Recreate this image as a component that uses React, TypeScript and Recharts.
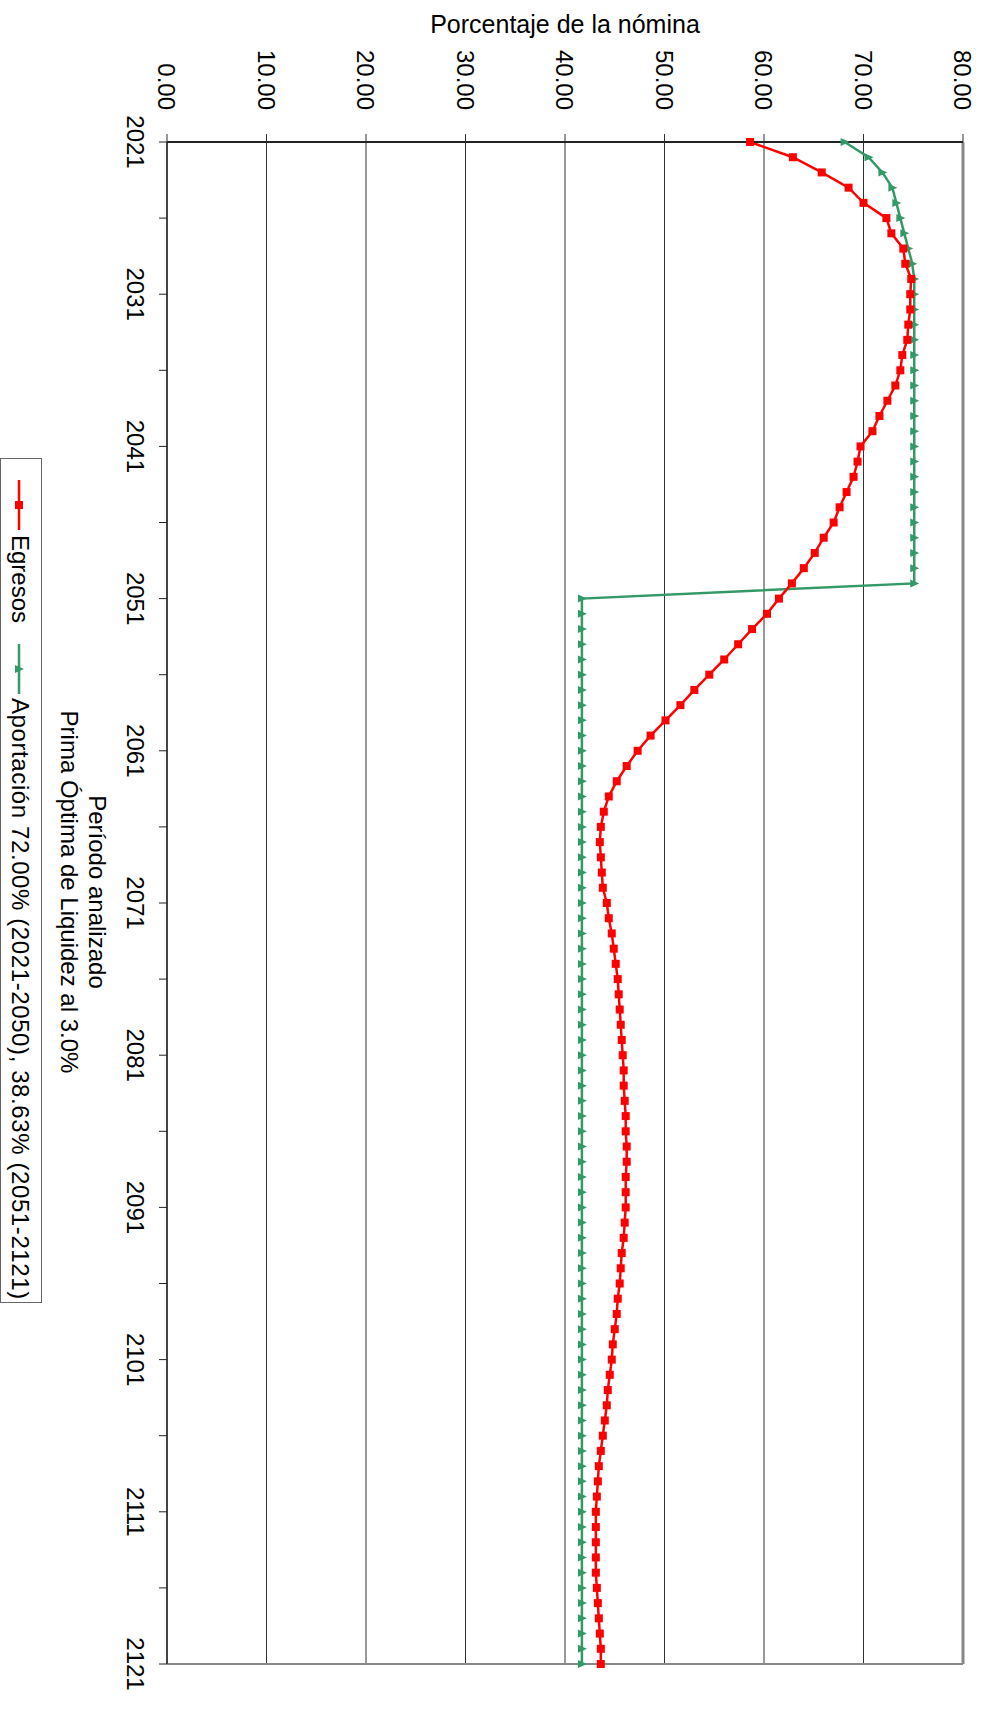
import React from 'react';
import { LineChart, Line, XAxis, YAxis, CartesianGrid, ReferenceLine } from 'recharts';

const years = [
  2021, 2022, 2023, 2024, 2025, 2026, 2027, 2028, 2029, 2030,
  2031, 2032, 2033, 2034, 2035, 2036, 2037, 2038, 2039, 2040,
  2041, 2042, 2043, 2044, 2045, 2046, 2047, 2048, 2049, 2050,
  2051, 2052, 2053, 2054, 2055, 2056, 2057, 2058, 2059, 2060,
  2061, 2062, 2063, 2064, 2065, 2066, 2067, 2068, 2069, 2070,
  2071, 2072, 2073, 2074, 2075, 2076, 2077, 2078, 2079, 2080,
  2081, 2082, 2083, 2084, 2085, 2086, 2087, 2088, 2089, 2090,
  2091, 2092, 2093, 2094, 2095, 2096, 2097, 2098, 2099, 2100,
  2101, 2102, 2103, 2104, 2105, 2106, 2107, 2108, 2109, 2110,
  2111, 2112, 2113, 2114, 2115, 2116, 2117, 2118, 2119, 2120,
  2121,
];

const egresos = [
  58.6, 62.9, 65.8, 68.5, 70.0, 72.3, 72.8, 74.0, 74.2, 74.8,
  74.7, 74.7, 74.5, 74.4, 73.9, 73.7, 73.2, 72.4, 71.6, 70.9,
  69.7, 69.4, 69.0, 68.3, 67.6, 67.0, 66.0, 65.1, 64.0, 62.8,
  61.5, 60.3, 58.8, 57.4, 56.0, 54.5, 53.0, 51.6, 50.1, 48.6,
  47.3, 46.2, 45.2, 44.4, 43.9, 43.6, 43.5, 43.6, 43.7, 43.8,
  44.2, 44.4, 44.7, 44.9, 45.1, 45.3, 45.4, 45.5, 45.6, 45.7,
  45.8, 45.9, 45.9, 46.0, 46.1, 46.1, 46.2, 46.2, 46.1, 46.1,
  46.1, 46.0, 45.9, 45.7, 45.6, 45.5, 45.3, 45.2, 45.0, 44.8,
  44.7, 44.5, 44.3, 44.2, 44.0, 43.8, 43.6, 43.4, 43.3, 43.2,
  43.1, 43.1, 43.1, 43.1, 43.1, 43.2, 43.3, 43.4, 43.5, 43.6,
  43.6,
];

const aportacion = [
  68.1, 70.5, 71.9, 72.9, 73.3, 73.7, 74.1, 74.5, 74.9, 75.1,
  75.1, 75.1, 75.1, 75.1, 75.1, 75.1, 75.1, 75.1, 75.1, 75.1,
  75.1, 75.1, 75.1, 75.1, 75.1, 75.1, 75.1, 75.1, 75.1, 75.1,
  41.7, 41.7, 41.7, 41.7, 41.7, 41.7, 41.7, 41.7, 41.7, 41.7,
  41.7, 41.7, 41.7, 41.7, 41.7, 41.7, 41.7, 41.7, 41.7, 41.7,
  41.7, 41.7, 41.7, 41.7, 41.7, 41.7, 41.7, 41.7, 41.7, 41.7,
  41.7, 41.7, 41.7, 41.7, 41.7, 41.7, 41.7, 41.7, 41.7, 41.7,
  41.7, 41.7, 41.7, 41.7, 41.7, 41.7, 41.7, 41.7, 41.7, 41.7,
  41.7, 41.7, 41.7, 41.7, 41.7, 41.7, 41.7, 41.7, 41.7, 41.7,
  41.7, 41.7, 41.7, 41.7, 41.7, 41.7, 41.7, 41.7, 41.7, 41.7,
  41.7,
];

const yearTicks = [
  2021, 2026, 2031, 2036, 2041, 2046, 2051, 2056, 2061, 2066, 2071,
  2076, 2081, 2086, 2091, 2096, 2101, 2106, 2111, 2116, 2121,
];
const yearLabels = [2021, 2031, 2041, 2051, 2061, 2071, 2081, 2091, 2101, 2111, 2121];
const valueTicks = [0, 10, 20, 30, 40, 50, 60, 70, 80];

const data = years.map((year, i) => ({
  year,
  egresos: egresos[i],
  aportacion: aportacion[i],
}));

const RED = '#FF0000';
const GREEN = '#339966';
const FONT = '"Liberation Sans", Arial, Helvetica, sans-serif';

// chart is drawn in landscape and then turned 90deg clockwise
const W = 1710;
const H = 987;

const SquareDot = (props: any) => {
  const { cx, cy, index } = props;
  if (cx == null || cy == null) return <g key={index} />;
  return <rect key={index} x={cx - 4} y={cy - 4} width={8} height={8} fill={RED} />;
};

const TriangleDot = (props: any) => {
  const { cx, cy, index } = props;
  if (cx == null || cy == null) return <g key={index} />;
  return (
    <polygon
      key={index}
      points={`${cx},${cy - 5} ${cx - 4},${cy + 4} ${cx + 4},${cy + 4}`}
      fill={GREEN}
    />
  );
};

const tickStyle = { fontSize: 24, fill: '#000', fontFamily: FONT };

export default function App() {
  return (
    <div
      style={{
        position: 'absolute',
        left: 0,
        top: 0,
        width: 987,
        height: 1710,
        overflow: 'hidden',
        background: '#fff',
        fontFamily: FONT,
      }}
    >
      <div
        style={{
          position: 'absolute',
          left: 365,
          top: 10,
          width: 400,
          textAlign: 'center',
          fontSize: 25,
          lineHeight: '28px',
          color: '#000',
        }}
      >
        Porcentaje de la nómina
      </div>

      <div
        style={{
          position: 'absolute',
          left: 0,
          top: 0,
          width: W,
          height: H,
          transformOrigin: '0 0',
          transform: `translate(${H}px, 0px) rotate(90deg)`,
        }}
      >
        <LineChart width={W} height={H} data={data} margin={{ top: 24, right: 46, bottom: 127, left: 0 }}>
          <CartesianGrid vertical={false} stroke="#333" strokeWidth={1} />
          <XAxis
            dataKey="year"
            type="number"
            domain={[2021, 2121]}
            ticks={yearTicks}
            interval={0}
            height={40}
            tickSize={8}
            tickMargin={15}
            tick={tickStyle}
            tickFormatter={(v: number) => (yearLabels.includes(v) ? String(v) : '')}
            axisLine={{ stroke: '#444', strokeWidth: 2 }}
            tickLine={{ stroke: '#222' }}
          />
          <YAxis
            type="number"
            domain={[0, 80]}
            ticks={valueTicks}
            interval={0}
            width={142}
            tickSize={8}
            tickMargin={24}
            tick={tickStyle}
            tickFormatter={(v: number) => v.toFixed(2)}
            axisLine={{ stroke: '#222', strokeWidth: 2 }}
            tickLine={{ stroke: '#333' }}
          />
          <ReferenceLine y={80} stroke="#888" strokeWidth={3} />
          <ReferenceLine x={2121} stroke="#888" strokeWidth={2} />
          <Line
            type="linear"
            dataKey="aportacion"
            stroke={GREEN}
            strokeWidth={2.5}
            dot={TriangleDot}
            activeDot={false}
            isAnimationActive={false}
          />
          <Line
            type="linear"
            dataKey="egresos"
            stroke={RED}
            strokeWidth={2.5}
            dot={SquareDot}
            activeDot={false}
            isAnimationActive={false}
          />
        </LineChart>

        <div
          style={{
            position: 'absolute',
            left: 492,
            top: 876,
            width: 800,
            textAlign: 'center',
            fontSize: 24,
            lineHeight: '28px',
            color: '#000',
          }}
        >
          <div>Período analizado</div>
          <div>Prima Óptima de Liquidez al 3.0%</div>
        </div>

        <div
          style={{
            position: 'absolute',
            left: 458,
            top: 945,
            width: 845,
            height: 42,
            boxSizing: 'border-box',
            border: '1px solid #666',
            fontSize: 24,
            lineHeight: '28px',
            color: '#000',
          }}
        >
          <svg style={{ position: 'absolute', left: 20, top: 14 }} width={52} height={16}>
            <line x1={1} y1={8} x2={51} y2={8} stroke={RED} strokeWidth={2.5} />
            <rect x={22} y={4} width={8} height={8} fill={RED} />
          </svg>
          <span style={{ position: 'absolute', left: 76, top: 7, whiteSpace: 'nowrap' }}>Egresos</span>
          <svg style={{ position: 'absolute', left: 184, top: 14 }} width={52} height={16}>
            <line x1={1} y1={8} x2={51} y2={8} stroke={GREEN} strokeWidth={2.5} />
            <polygon points="26,3 22,12 30,12" fill={GREEN} />
          </svg>
          <span
            style={{ position: 'absolute', left: 239, top: 7, whiteSpace: 'nowrap', letterSpacing: '0.6px' }}
          >
            Aportación 72.00% (2021-2050), 38.63% (2051-2121)
          </span>
        </div>
      </div>
    </div>
  );
}
